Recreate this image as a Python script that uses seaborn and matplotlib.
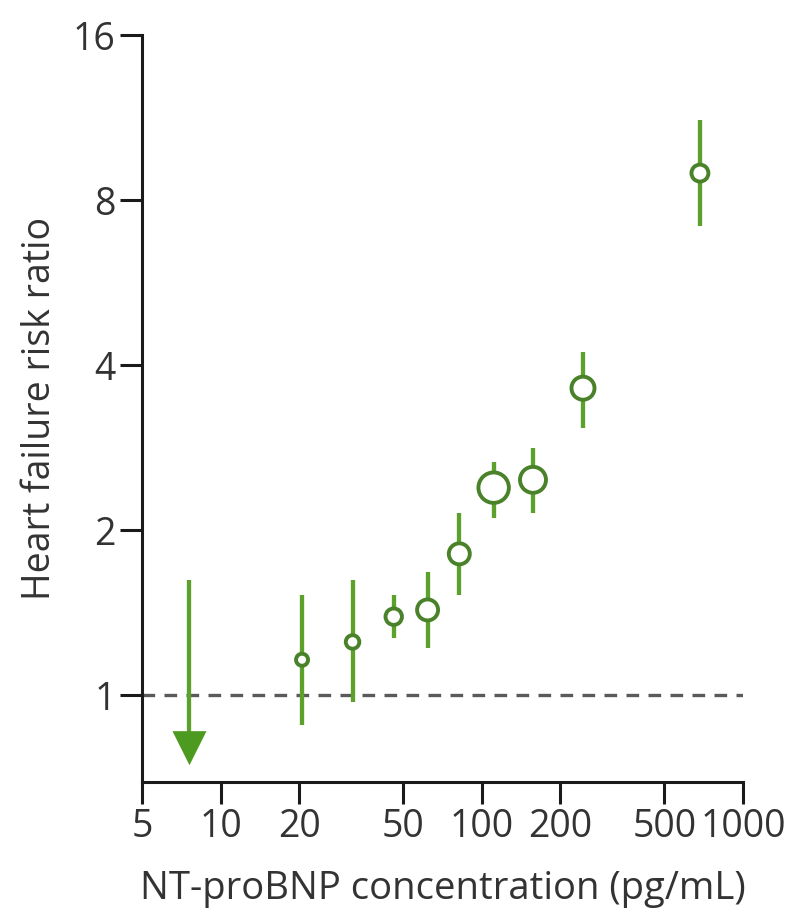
import matplotlib
matplotlib.use("Agg")
import matplotlib.pyplot as plt
import matplotlib.ticker as mticker
import seaborn as sns
import pandas as pd

# NT-proBNP group concentrations (pg/mL) and heart failure risk ratios with 95% CI
conc = [20.5, 32, 46, 62, 82, 111, 157, 244, 684]
risk_ratio = [1.16, 1.25, 1.39, 1.43, 1.81, 2.39, 2.47, 3.63, 8.96]
ci_low = [0.88, 0.97, 1.27, 1.22, 1.52, 2.10, 2.15, 3.07, 7.17]
ci_high = [1.52, 1.62, 1.52, 1.68, 2.15, 2.66, 2.82, 4.22, 11.2]
group_weight = [75, 95, 140, 228, 228, 480, 350, 275, 149]

# lowest group: estimate falls below the axis, only upper limit shown
low_conc = [7.6]
low_ci_high = [1.62]
low_rr = [0.80]

x_ticks = [5, 10, 20, 50, 100, 200, 500, 1000]
y_ticks = [1, 2, 4, 8, 16]

green = "#5ca12c"
edge_green = "#4a822a"
text_col = "#333333"

df = pd.DataFrame({"conc": conc, "rr": risk_ratio, "lo": ci_low,
                   "hi": ci_high, "w": group_weight})
df_low = pd.DataFrame({"conc": low_conc, "rr": low_rr, "hi": low_ci_high})

sns.set_style("ticks")
plt.rcParams["font.family"] = ["Open Sans", "DejaVu Sans"]

fig = plt.figure(figsize=(7.95, 9.21), dpi=100)
ax = fig.add_axes([0.1786, 0.1509, 0.756, 0.811])

ax.set_xscale("log")
ax.set_yscale("log", base=2)

# reference line at risk ratio 1
ax.axhline(1, color="#5a5a5a", lw=2.4, ls=(0, (3.8, 2.8)), zorder=1)

# confidence intervals
ax.vlines(df["conc"], df["lo"], df["hi"], color=green, lw=3.1, zorder=2)
ax.vlines(df_low["conc"], df_low["rr"], df_low["hi"], color=green, lw=3.1, zorder=2)

sns.scatterplot(data=df, x="conc", y="rr", size="w",
                sizes={w: w for w in group_weight}, marker="o",
                facecolor="white", edgecolor=edge_green, linewidth=2.8,
                legend=False, ax=ax, zorder=3)
sns.scatterplot(data=df_low, x="conc", y="rr", marker="v", s=600,
                color="#4c9b20", edgecolor="none", legend=False, ax=ax,
                zorder=3, clip_on=False)

ax.set_xlim(5, 1000)
ax.set_ylim(0.694, 16)
ax.set_xticks(x_ticks)
ax.set_xticklabels([str(t) for t in x_ticks])
ax.set_yticks(y_ticks)
ax.set_yticklabels([str(t) for t in y_ticks])
ax.xaxis.set_minor_locator(mticker.NullLocator())
ax.yaxis.set_minor_locator(mticker.NullLocator())

sns.despine(ax=ax)
for side in ["left", "bottom"]:
    ax.spines[side].set_linewidth(2.2)
    ax.spines[side].set_color("#1a1a1a")
ax.tick_params(axis="both", length=16, width=2.2, color="#1a1a1a",
               labelsize=27, labelcolor=text_col, pad=3)

ax.set_xlabel("NT-proBNP concentration (pg/mL)", fontsize=27.5, color=text_col,
              labelpad=17)
ax.set_ylabel("Heart failure risk ratio", fontsize=27, color=text_col,
              labelpad=10)

fig.savefig("out.png", dpi=100, facecolor="white")
